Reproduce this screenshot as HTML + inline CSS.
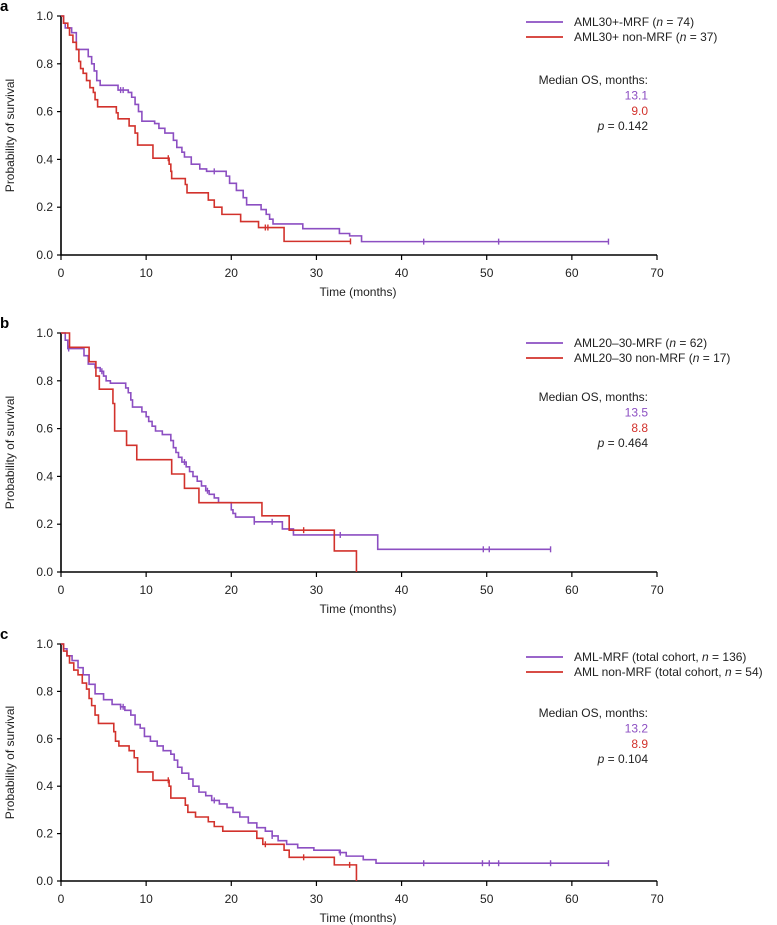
<!DOCTYPE html>
<html><head><meta charset="utf-8"><style>
body{margin:0;background:#fff;}
svg{display:block;font-family:"Liberation Sans",sans-serif;}
</style></head><body>
<svg id="chart" width="777" height="925"></svg>
<script>
// Panel a
const aPurpleT=[0,0.3,0.5,1.25,1.8,3.2,3.6,3.9,4.2,4.6,6.7,7.9,8.3,8.7,9.1,9.5,11,11.5,12.2,13.2,13.6,14.2,14.5,15.3,16.3,17.1,19.4,19.8,20.6,21.4,21.8,23.5,24.1,24.5,24.9,28.4,32.7,33.9,35.3,64.3];
const aPurpleS=[1,0.97,0.95,0.93,0.86,0.83,0.80,0.77,0.73,0.71,0.69,0.68,0.66,0.63,0.60,0.56,0.55,0.53,0.51,0.48,0.45,0.43,0.41,0.38,0.36,0.35,0.33,0.30,0.27,0.24,0.21,0.19,0.17,0.15,0.13,0.11,0.09,0.08,0.056,0.056];
const aPurpleCens=[7.0,7.3,18.0,42.6,51.4,64.3];
const aRedT=[0,0.3,0.8,1.0,1.4,1.8,2.1,2.3,2.6,3.0,3.4,3.8,4.0,4.3,6.5,6.7,8.0,8.7,9.0,10.8,12.7,12.9,13.0,14.6,14.8,17.3,18.0,18.9,21.1,23.2,26.2,34.0];
const aRedS=[1,0.97,0.95,0.92,0.89,0.86,0.81,0.78,0.76,0.73,0.70,0.68,0.65,0.62,0.595,0.57,0.54,0.51,0.46,0.405,0.38,0.35,0.32,0.295,0.26,0.23,0.20,0.17,0.14,0.115,0.057,0.057];
const aRedCens=[12.6,24.0,24.3,34.0];
// Panel b
const bPurpleT=[0,0.5,0.8,2.7,3.2,4.0,4.6,5.0,5.3,5.8,7.6,7.9,8.2,8.4,9.5,10.0,10.3,10.7,11.1,11.9,12.9,13.2,13.5,13.8,14.2,14.7,15.1,15.5,16.0,16.5,17.0,17.4,18.0,18.5,20.0,20.2,20.5,22.7,26.0,27.3,37.2,57.5];
const bPurpleS=[1,0.97,0.935,0.905,0.87,0.855,0.84,0.82,0.80,0.79,0.77,0.75,0.72,0.69,0.67,0.65,0.63,0.61,0.59,0.575,0.55,0.52,0.50,0.48,0.46,0.44,0.42,0.40,0.38,0.36,0.34,0.325,0.31,0.29,0.26,0.245,0.23,0.21,0.18,0.155,0.095,0.095];
const bPurpleCens=[0.9,4.8,14.5,17.2,22.7,24.8,32.8,49.6,50.3,57.5];
const bRedT=[0,1.0,3.3,4.1,4.5,6.1,6.3,7.7,8.9,13.0,14.5,16.2,23.6,26.8,32.1,34.7];
const bRedS=[1,0.94,0.88,0.82,0.765,0.705,0.59,0.53,0.47,0.41,0.35,0.29,0.235,0.175,0.088,0];
const bRedCens=[28.5];
// Panel c
const cPurpleT=[0,0.3,0.7,1.3,2.0,2.6,3.3,4.0,5.0,6.0,7.0,7.5,8.2,8.7,9.3,9.8,10.5,11.3,12.0,12.9,13.3,13.7,14.2,15.0,15.5,16.2,17.0,17.7,18.6,19.5,20.2,21.0,22.0,23.0,24.0,24.8,25.5,26.5,27.8,29.7,32.7,33.5,35.5,37.0,64.3];
const cPurpleS=[1,0.98,0.95,0.93,0.90,0.87,0.83,0.79,0.765,0.745,0.735,0.72,0.70,0.66,0.645,0.61,0.59,0.57,0.55,0.535,0.51,0.48,0.455,0.43,0.40,0.375,0.36,0.34,0.325,0.31,0.29,0.27,0.245,0.225,0.21,0.19,0.17,0.155,0.14,0.13,0.12,0.105,0.09,0.075,0.075];
const cPurpleCens=[7.0,7.3,18.0,24.8,32.8,42.6,49.5,50.3,51.4,57.5,64.3];
const cRedT=[0,0.3,0.7,1.0,1.5,2.0,2.5,3.0,3.3,3.6,4.0,4.4,6.2,6.4,6.8,8.0,8.6,9.0,10.8,12.7,12.9,14.6,14.9,15.8,17.3,18.0,19.0,23.0,23.7,26.2,26.8,32.1,34.7];
const cRedS=[1,0.97,0.95,0.92,0.89,0.87,0.835,0.81,0.77,0.74,0.70,0.665,0.63,0.59,0.57,0.55,0.52,0.46,0.425,0.40,0.35,0.32,0.29,0.27,0.25,0.23,0.21,0.18,0.155,0.13,0.10,0.068,0];
const cRedCens=[12.6,24.0,28.5,33.9];

const xTicks=[0,10,20,30,40,50,60,70];
const yTicks=[0,0.2,0.4,0.6,0.8,1.0];
const PURPLE="#8c4fc2", RED="#d2322c";
const NS="http://www.w3.org/2000/svg";
const svg=document.getElementById('chart');
function mk(tag,attrs,parent){const e=document.createElementNS(NS,tag);for(const k in attrs)e.setAttribute(k,attrs[k]);(parent||svg).appendChild(e);return e;}
const X0=61,X1=657;
const FS=12;
function xs(t){return X0+(t/70)*(X1-X0);}

const panels=[
 {id:'a',top:16,bot:255,pT:aPurpleT,pS:aPurpleS,pC:aPurpleCens,rT:aRedT,rS:aRedS,rC:aRedCens,
  l1:['AML30+-MRF (','n',' = 74)'],l2:['AML30+ non-MRF (','n',' = 37)'],leg:22,med:80,mv:['13.1','9.0','0.142']},
 {id:'b',top:333,bot:572,pT:bPurpleT,pS:bPurpleS,pC:bPurpleCens,rT:bRedT,rS:bRedS,rC:bRedCens,
  l1:['AML20–30-MRF (','n',' = 62)'],l2:['AML20–30 non-MRF (','n',' = 17)'],leg:343,med:397,mv:['13.5','8.8','0.464']},
 {id:'c',top:644,bot:881,pT:cPurpleT,pS:cPurpleS,pC:cPurpleCens,rT:cRedT,rS:cRedS,rC:cRedCens,
  l1:['AML-MRF (total cohort, ','n',' = 136)'],l2:['AML non-MRF (total cohort, ','n',' = 54)'],leg:657,med:713,mv:['13.2','8.9','0.104']}
];

panels.forEach(p=>{
 const g=mk('g',{});
 
 
 const ys=v=>p.bot-v*(p.bot-p.top);
 const lab=mk('text',{x:0,y:p.top-5,'font-size':15,'font-weight':'bold',fill:'#000'},g);lab.textContent=p.id;
 
 
 const ax=mk('path',{d:`M${X0},${p.top} V${p.bot} H${X1}`,stroke:'#000','stroke-width':1.6,fill:'none'},g);
 
 
 yTicks.forEach(v=>{
  mk('line',{x1:X0-4,x2:X0,y1:ys(v),y2:ys(v),stroke:'#000','stroke-width':1.2},g);
  const t=mk('text',{x:X0-8,y:ys(v)+4,'font-size':FS,'text-anchor':'end',fill:'#222'},g);t.textContent=v.toFixed(1);
  
  
 });
 xTicks.forEach(v=>{
  mk('line',{x1:xs(v),x2:xs(v),y1:p.bot,y2:p.bot+5,stroke:'#000','stroke-width':1.2},g);
  const t=mk('text',{x:xs(v),y:p.bot+22,'font-size':FS,'text-anchor':'middle',fill:'#222'},g);t.textContent=v;
  
  
 });
 const xt=mk('text',{x:358,y:p.bot+41,'font-size':FS,'text-anchor':'middle',fill:'#222'},g);xt.textContent='Time (months)';
 
 
 const ym=(p.top+p.bot)/2;
 const yt=mk('text',{x:14,y:ym,'font-size':FS,'text-anchor':'middle',fill:'#222',transform:`rotate(-90 14 ${ym})`},g);yt.textContent='Probability of survival';
 
 
 function curve(T,S,C,col,name){
  let d=`M${xs(T[0])},${ys(S[0])}`;
  for(let i=1;i<T.length;i++){d+=` H${xs(T[i])} V${ys(S[i])}`;}
  const pa=mk('path',{d,stroke:col,'stroke-width':1.6,fill:'none'},g);
  
  
  C.forEach(c=>{
   let s=S[0];for(let i=0;i<T.length;i++){if(T[i]<=c)s=S[i];}
   const m=mk('line',{x1:xs(c),x2:xs(c),y1:ys(s)-3,y2:ys(s)+3,stroke:col,'stroke-width':1.4},g);
   
   
  });
 }
 curve(p.pT,p.pS,p.pC,PURPLE,'mrf');
 curve(p.rT,p.rS,p.rC,RED,'non-mrf');
 [[p.l1,PURPLE,p.leg],[p.l2,RED,p.leg+15]].forEach(([txt,col,y],i)=>{
  const lg=mk('g',{},g);
  
  
  mk('line',{x1:526,x2:563,y1:y,y2:y,stroke:col,'stroke-width':1.8},lg);
  const t=mk('text',{x:574,y:y+4,'font-size':FS,fill:'#222'},lg);
  t.appendChild(document.createTextNode(txt[0]));
  const it=mk('tspan',{'font-style':'italic'},t);it.textContent=txt[1];
  t.appendChild(document.createTextNode(txt[2]));
 });
 const m0=mk('text',{x:648,y:p.med+4,'font-size':FS,'text-anchor':'end',fill:'#222'},g);m0.textContent='Median OS, months:';
 
 
 const m1=mk('text',{x:648,y:p.med+19.5,'font-size':FS,'text-anchor':'end',fill:PURPLE},g);m1.textContent=p.mv[0];
 
 
 const m2=mk('text',{x:648,y:p.med+35,'font-size':FS,'text-anchor':'end',fill:RED},g);m2.textContent=p.mv[1];
 
 
 const m3=mk('text',{x:648,y:p.med+50,'font-size':FS,'text-anchor':'end',fill:'#222'},g);
 const pi=mk('tspan',{'font-style':'italic'},m3);pi.textContent='p';
 m3.appendChild(document.createTextNode(' = '+p.mv[2]));
 
 
});
</script>
</body></html>
